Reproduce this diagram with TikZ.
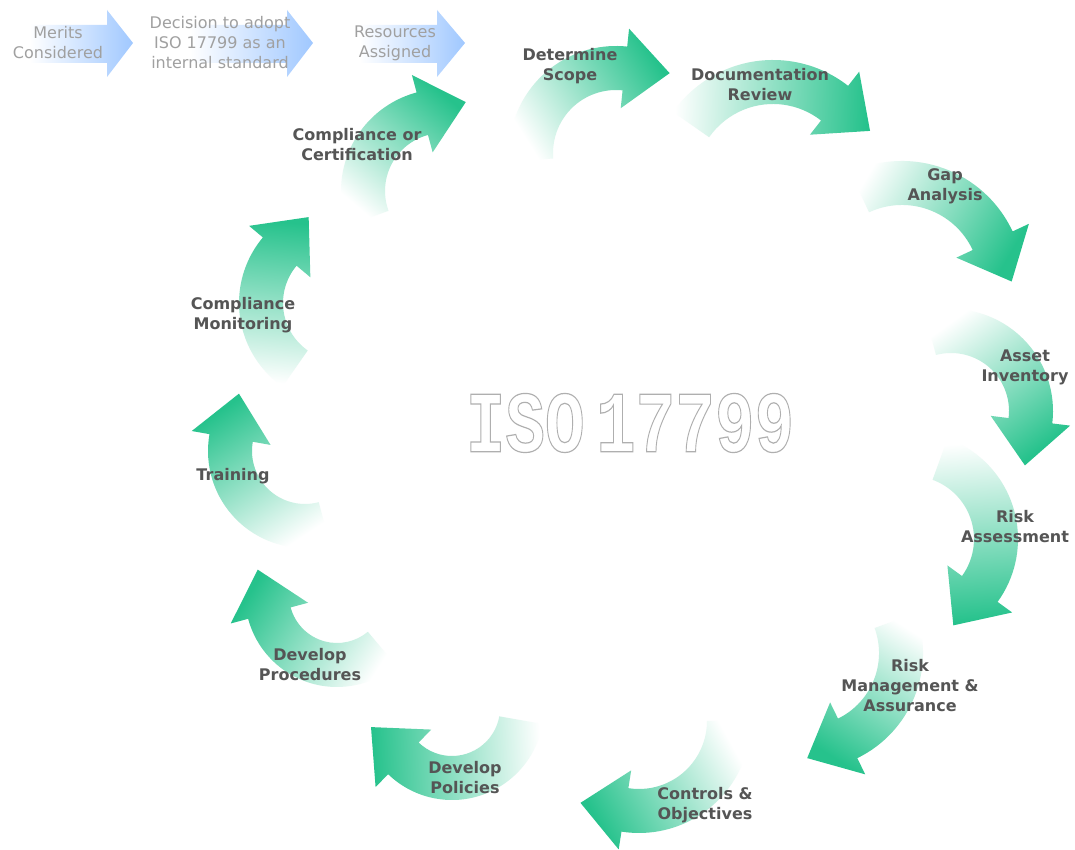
\documentclass[tikz,border=0pt]{standalone}
\usepackage{fontspec}
\usepackage{graphicx}
\usetikzlibrary{calc}
\setmainfont{DejaVu Sans}
\newfontfamily\isofont{Liberation Mono}

\definecolor{isogreen}{RGB}{38,194,140}
\colorlet{isomid}{isogreen!28}
\definecolor{isoblue}{RGB}{160,200,255}
\definecolor{steptext}{RGB}{85,85,85}
\definecolor{leadtext}{RGB}{160,160,160}
\definecolor{isoline}{RGB}{175,175,175}

\tikzset{
  steplabel/.style={font=\fontsize{8}{10}\selectfont\bfseries, text=steptext, align=center, inner sep=0pt},
  leadlabel/.style={font=\fontsize{8}{10}\selectfont, text=leadtext, align=center, inner sep=0pt},
  isoshade/.style={top color=isogreen, middle color=isomid, bottom color=white},
  leadshade/.style={left color=white, right color=isoblue},
}

% band half width, head half width, head length
\newcommand\bandw{22}
\newcommand\headw{40}
\newcommand\headl{45}

% curved step arrow: centre x, centre y (picture rows), radius, start angle, end angle
\newcommand\isoarrow[5]{%
  \pgfmathsetmacro\arcx{#1}%
  \pgfmathsetmacro\arcy{850-#2}%
  \pgfmathsetmacro\arro{#3+\bandw}%
  \pgfmathsetmacro\arri{#3-\bandw}%
  \pgfmathsetmacro\arho{#3+\headw}%
  \pgfmathsetmacro\arhi{#3-\headw}%
  \pgfmathsetmacro\artx{#3*cos(#5)+\headl*cos(#5-90)}%
  \pgfmathsetmacro\arty{#3*sin(#5)+\headl*sin(#5-90)}%
  \pgfmathsetmacro\arsa{atan2(\arty-#3*sin(#4),\artx-#3*cos(#4))-90}%
  \shade[isoshade, shading angle=\arsa, shift={(\arcx,\arcy)}]
    (#4:\arro) arc[start angle=#4, end angle=#5, radius=\arro]
    -- (#5:\arho) -- (\artx,\arty) -- (#5:\arhi) -- (#5:\arri)
    arc[start angle=#5, end angle=#4, radius=\arri] -- cycle;
}

% outlined (stroked only) text
\newcommand\outlined[1]{\special{pdf:literal direct 1 Tr 0.45 w}#1\special{pdf:literal direct 0 Tr}}

\begin{document}
\begin{tikzpicture}[x=0.5pt, y=0.5pt]
  \useasboundingbox[fill=white] (0,0) rectangle (1075,850);

  % lead-in arrows
  \shade[leadshade] (30,825) -- (107,825) -- (107,840) -- (133,807) -- (107,773) -- (107,787) -- (30,787) -- cycle;
  \shade[leadshade] (190,825) -- (287,825) -- (287,840) -- (313,807) -- (287,773) -- (287,787) -- (190,787) -- cycle;
  \shade[leadshade] (360,825) -- (437,825) -- (437,840) -- (465,807) -- (437,773) -- (437,787) -- (360,787) -- cycle;

  % the cycle
  \isoarrow{616}{153}{85}{185}{84}
  \isoarrow{773}{182}{100}{145}{52}
  \isoarrow{902}{283}{100}{115}{25}
  \isoarrow{951}{411}{80}{105}{-7}
  \isoarrow{911}{539}{85}{70}{-36}
  \isoarrow{806}{653}{95}{20}{-64}
  \isoarrow{639}{721}{90}{0}{-99}
  \isoarrow{452}{708}{70}{-10}{-134}
  \isoarrow{337}{595}{70}{-50}{-165}
  \isoarrow{305}{451}{75}{285}{170}
  \isoarrow{341}{303}{80}{235}{140}
  \isoarrow{443}{191}{80}{200}{105}

  \node[leadlabel] (merits) at (58,807) {Merits\\Considered};
  \node[leadlabel] (decision) at (220,807) {Decision to adopt\\ISO 17799 as an\\internal standard};
  \node[leadlabel] (resources) at (395,807) {Resources\\Assigned};

  \node[steplabel] (scope) at (570,784) {Determine\\Scope};
  \node[steplabel] (docreview) at (760,765) {Documentation\\Review};
  \node[steplabel] (gap) at (945,664) {Gap\\Analysis};
  \node[steplabel] (asset) at (1025,483) {Asset\\Inventory};
  \node[steplabel] (riskassess) at (1015,323) {Risk\\Assessment};
  \node[steplabel] (riskmgmt) at (910,164) {Risk\\Management \&\\Assurance};
  \node[steplabel] (controls) at (705,45) {Controls \&\\Objectives};
  \node[steplabel] (policies) at (465,72) {Develop\\Policies};
  \node[steplabel] (procedures) at (310,185) {Develop\\Procedures};
  \node[steplabel] (training) at (233,374) {Training};
  \node[steplabel] (monitoring) at (243,535) {Compliance\\Monitoring};
  \node[steplabel] (certification) at (357,705) {Compliance or\\Certification};

  \node[inner sep=0pt, text=isoline] (iso) at (630,427) {\scalebox{1}[1.32]{\isofont\bfseries\fontsize{33}{33}\selectfont\outlined{ISO\kern-14pt\ 17799}}};
\end{tikzpicture}
\end{document}
